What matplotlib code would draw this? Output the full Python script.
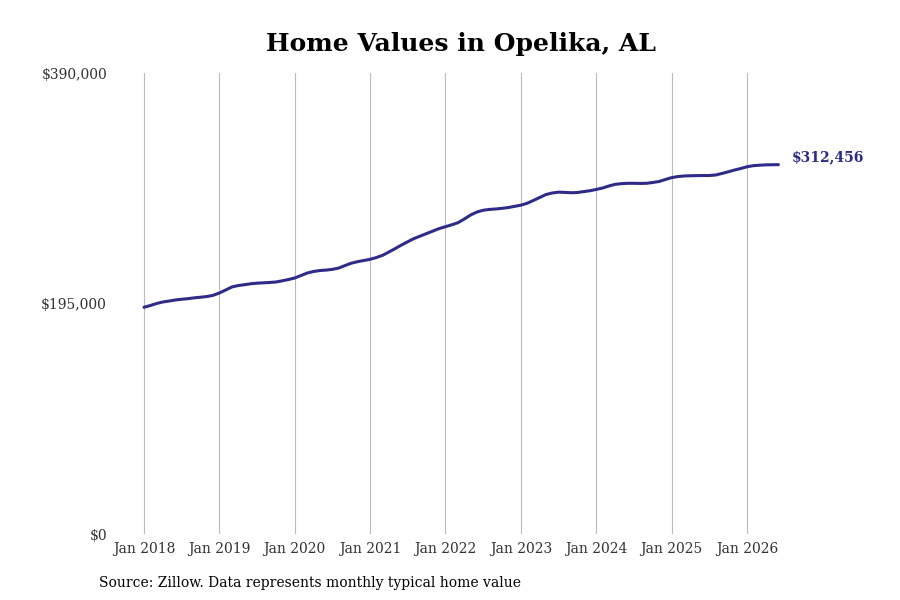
import matplotlib
matplotlib.use("Agg")
from matplotlib import pyplot as plt
from matplotlib.ticker import FuncFormatter

# monthly typical home value, Jan 2018 .. Jun 2026
values = [
    191800, 193300, 195000, 196300, 197100, 198000, 198600, 199100, 199800, 200300, 200900, 201900,
    203900, 206400, 209000, 210200, 210900, 211700, 212200, 212500, 212800, 213200, 214200, 215300,
    216600, 218700, 220800, 222100, 222900, 223300, 223900, 225000, 227100, 229100, 230400, 231400,
    232400, 233900, 235800, 238600, 241500, 244500, 247300, 250000, 252100, 254200, 256300, 258400,
    260000, 261600, 263400, 266500, 269900, 272400, 273900, 274600, 275000, 275500, 276200, 277200,
    278200, 279800, 282200, 284700, 287200, 288500, 289200, 289000, 288700, 288900, 289700, 290400,
    291500, 292700, 294400, 295800, 296400, 296700, 296700, 296600, 296700, 297400, 298200, 299900,
    301500, 302400, 302900, 303100, 303200, 303300, 303300, 303700, 305000, 306400, 307900, 309200,
    310700, 311600, 312000, 312300, 312400, 312456,
]
months = list(range(len(values)))

tick_pos = [0, 12, 24, 36, 48, 60, 72, 84, 96]
tick_labels = ["Jan 2018", "Jan 2019", "Jan 2020", "Jan 2021", "Jan 2022",
               "Jan 2023", "Jan 2024", "Jan 2025", "Jan 2026"]
y_ticks = [0, 195000, 390000]

line_color = "#2e2c88"
plt.rcParams['font.family'] = ['DejaVu Serif']

fig = plt.figure(figsize=(9, 6), dpi=100)
ax = fig.add_axes([0.1244, 0.11, 0.9556 - 0.1244, 0.8783 - 0.11])

ax.plot(months, values, color=line_color, lw=2.2, solid_capstyle='round')
ax.text(months[-1] + 2.1, values[-1], "${:,}".format(values[-1]), color=line_color,
        fontsize=10, fontweight='bold', va='bottom', ha='left')

ax.set_xlim(-5.1, 114)
ax.set_ylim(0, 390000)
ax.set_xticks(tick_pos)
ax.set_xticklabels(tick_labels)
ax.set_yticks(y_ticks)
ax.yaxis.set_major_formatter(FuncFormatter(lambda v, p: "${:,.0f}".format(v)))
ax.tick_params(axis='both', length=0, labelsize=10, labelcolor="#333333")
ax.tick_params(axis='x', pad=6)
ax.tick_params(axis='y', pad=3.5)
ax.grid(True, axis='x', color="#bbbbbb", lw=0.8)
for s in ax.spines.values():
    s.set_visible(False)

fig.suptitle("Home Values in Opelika, AL", x=0.512, y=0.947, fontsize=18, fontweight='bold')
fig.text(0.11, 0.0215, "Source: Zillow. Data represents monthly typical home value", fontsize=10)

fig.savefig("out.png", dpi=100)
